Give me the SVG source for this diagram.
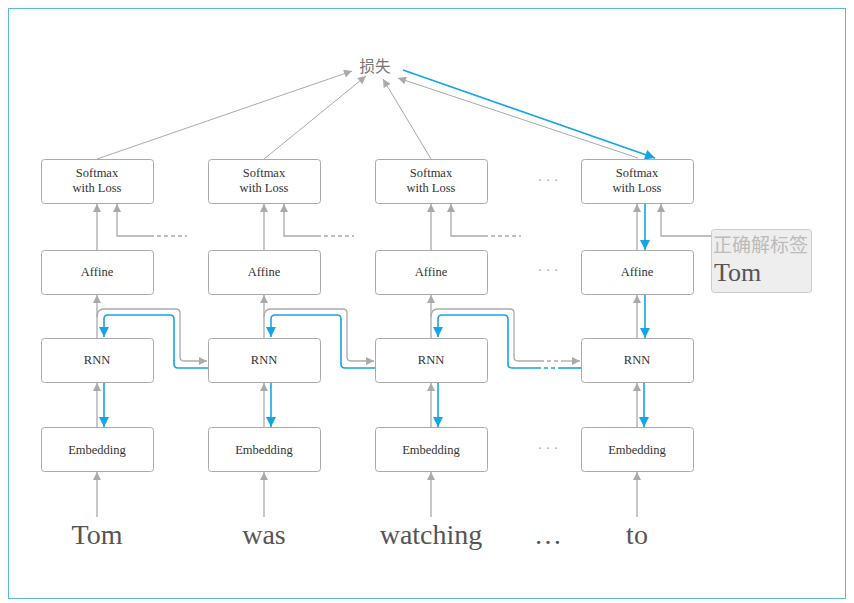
<svg xmlns="http://www.w3.org/2000/svg" width="854" height="603" viewBox="0 0 854 603">
<style>
.box{fill:#fff;stroke:#aaa;stroke-width:1}
.lbl{font-family:"Liberation Serif","DejaVu Serif","Noto Serif","Times New Roman",Times,serif;font-size:12.5px;fill:#333;text-anchor:middle}
.word{font-family:"Liberation Serif","DejaVu Serif","Noto Serif","Times New Roman",Times,serif;font-size:28px;fill:#555;text-anchor:middle}
.dots{font-family:"Liberation Serif",serif;font-size:14px;fill:#aaa;text-anchor:middle}
.g{fill:none;stroke:#aaa;stroke-width:1.3}
.gt{fill:none;stroke:#aaa;stroke-width:1}
.b{fill:none;stroke:#14a5e6;stroke-width:1.6}
.gd{fill:none;stroke:#aaa;stroke-width:1.3;stroke-dasharray:4 3}
.bd{fill:none;stroke:#14a5e6;stroke-width:1.6;stroke-dasharray:4 3}
</style>
<defs>
<marker id="ag" viewBox="0 0 10 10" refX="10" refY="5" markerWidth="9" markerHeight="8" markerUnits="userSpaceOnUse" orient="auto"><path d="M0,0 L10,5 L0,10 z" fill="#aaa"/></marker>
<marker id="ab" viewBox="0 0 10 10" refX="10" refY="5" markerWidth="11" markerHeight="10" markerUnits="userSpaceOnUse" orient="auto"><path d="M0,0 L10,5 L0,10 z" fill="#14a5e6"/></marker>
</defs>
<rect x="8.5" y="8.5" width="837" height="590" fill="#fff" stroke="#5bb8e0" stroke-width="1"/>

<g id="connectors">
<path class="gt" d="M97,159 L352,71" marker-end="url(#ag)"/>
<path class="gt" d="M264,159 L366,76" marker-end="url(#ag)"/>
<path class="gt" d="M431,159 L383,79" marker-end="url(#ag)"/>
<path class="gt" d="M638,158 L398,78" marker-end="url(#ag)"/>
<path class="b" d="M403,70 L655,158" marker-end="url(#ab)"/>
<path class="g" d="M97,250 L97,204" marker-end="url(#ag)"/>
<path class="g" d="M264,250 L264,204" marker-end="url(#ag)"/>
<path class="g" d="M431,250 L431,204" marker-end="url(#ag)"/>
<path class="g" d="M637,250 L637,204" marker-end="url(#ag)"/>
<path class="b" d="M645,204 L645,250" marker-end="url(#ab)"/>
<path class="g" d="M150,236 L117,236 L117,204" marker-end="url(#ag)"/>
<path class="gd" d="M150,236 L187,236"/>
<path class="g" d="M317,236 L284,236 L284,204" marker-end="url(#ag)"/>
<path class="gd" d="M317,236 L354,236"/>
<path class="g" d="M484,236 L451,236 L451,204" marker-end="url(#ag)"/>
<path class="gd" d="M484,236 L521,236"/>
<path class="g" d="M711,236 L661,236 L661,204" marker-end="url(#ag)"/>
<path class="g" d="M97,338 L97,295" marker-end="url(#ag)"/>
<path class="g" d="M264,338 L264,295" marker-end="url(#ag)"/>
<path class="g" d="M431,338 L431,295" marker-end="url(#ag)"/>
<path class="g" d="M637,338 L637,295" marker-end="url(#ag)"/>
<path class="b" d="M645,295 L645,338" marker-end="url(#ab)"/>
<path class="g" d="M97,427 L97,383" marker-end="url(#ag)"/>
<path class="g" d="M264,427 L264,383" marker-end="url(#ag)"/>
<path class="g" d="M431,427 L431,383" marker-end="url(#ag)"/>
<path class="g" d="M637,427 L637,383" marker-end="url(#ag)"/>
<path class="b" d="M104,383 L104,427" marker-end="url(#ab)"/>
<path class="b" d="M271,383 L271,427" marker-end="url(#ab)"/>
<path class="b" d="M438,383 L438,427" marker-end="url(#ab)"/>
<path class="b" d="M644,383 L644,427" marker-end="url(#ab)"/>
<path class="g" d="M97,517 L97,472" marker-end="url(#ag)"/>
<path class="g" d="M264,517 L264,472" marker-end="url(#ag)"/>
<path class="g" d="M431,517 L431,472" marker-end="url(#ag)"/>
<path class="g" d="M637,517 L637,472" marker-end="url(#ag)"/>
<path class="g" d="M97,317 Q97,309 104,309 L176,309 Q180,309 180,313 L180,357 Q180,361 184,361 L207,361" marker-end="url(#ag)"/>
<path class="b" d="M208,368 L178,368 Q174,368 174,364 L174,319 Q174,315 170,315 L108,315 Q104,315 104,319 L104,337" marker-end="url(#ab)"/>
<path class="g" d="M264,317 Q264,309 271,309 L343,309 Q347,309 347,313 L347,357 Q347,361 351,361 L374,361" marker-end="url(#ag)"/>
<path class="b" d="M375,368 L345,368 Q341,368 341,364 L341,319 Q341,315 337,315 L275,315 Q271,315 271,319 L271,337" marker-end="url(#ab)"/>
<path class="g" d="M431,317 Q431,309 438,309 L510,309 Q514,309 514,313 L514,357 Q514,361 518,361 L540,361"/>
<path class="gd" d="M540,361 L562,361"/>
<path class="g" d="M562,361 L580,361" marker-end="url(#ag)"/>
<path class="b" d="M581,368 L562,368"/>
<path class="bd" d="M562,368 L540,368"/>
<path class="b" d="M540,368 L512,368 Q508,368 508,364 L508,319 Q508,315 504,315 L442,315 Q438,315 438,319 L438,337" marker-end="url(#ab)"/>
</g>

<g id="loss"><text x="375" y="72" font-family="'Noto Sans CJK SC',sans-serif" font-size="15.5" fill="#777" text-anchor="middle">损失</text></g>

<g id="softmax1"><rect class="box" x="41.5" y="159.5" width="112" height="44" rx="3"/><text class="lbl" x="97" y="177">Softmax</text><text class="lbl" x="97" y="192">with Loss</text></g>
<g id="softmax2"><rect class="box" x="208.5" y="159.5" width="112" height="44" rx="3"/><text class="lbl" x="264" y="177">Softmax</text><text class="lbl" x="264" y="192">with Loss</text></g>
<g id="softmax3"><rect class="box" x="375.5" y="159.5" width="112" height="44" rx="3"/><text class="lbl" x="431" y="177">Softmax</text><text class="lbl" x="431" y="192">with Loss</text></g>
<g id="softmax4"><rect class="box" x="581.5" y="159.5" width="112" height="44" rx="3"/><text class="lbl" x="637" y="177">Softmax</text><text class="lbl" x="637" y="192">with Loss</text></g>

<g id="affine1"><rect class="box" x="41.5" y="250.5" width="112" height="44" rx="3"/><text class="lbl" x="97" y="276">Affine</text></g>
<g id="affine2"><rect class="box" x="208.5" y="250.5" width="112" height="44" rx="3"/><text class="lbl" x="264" y="276">Affine</text></g>
<g id="affine3"><rect class="box" x="375.5" y="250.5" width="112" height="44" rx="3"/><text class="lbl" x="431" y="276">Affine</text></g>
<g id="affine4"><rect class="box" x="581.5" y="250.5" width="112" height="44" rx="3"/><text class="lbl" x="637" y="276">Affine</text></g>

<g id="rnn1"><rect class="box" x="41.5" y="338.5" width="112" height="44" rx="3"/><text class="lbl" x="97" y="364">RNN</text></g>
<g id="rnn2"><rect class="box" x="208.5" y="338.5" width="112" height="44" rx="3"/><text class="lbl" x="264" y="364">RNN</text></g>
<g id="rnn3"><rect class="box" x="375.5" y="338.5" width="112" height="44" rx="3"/><text class="lbl" x="431" y="364">RNN</text></g>
<g id="rnn4"><rect class="box" x="581.5" y="338.5" width="112" height="44" rx="3"/><text class="lbl" x="637" y="364">RNN</text></g>

<g id="emb1"><rect class="box" x="41.5" y="427.5" width="112" height="44" rx="3"/><text class="lbl" x="97" y="454">Embedding</text></g>
<g id="emb2"><rect class="box" x="208.5" y="427.5" width="112" height="44" rx="3"/><text class="lbl" x="264" y="454">Embedding</text></g>
<g id="emb3"><rect class="box" x="375.5" y="427.5" width="112" height="44" rx="3"/><text class="lbl" x="431" y="454">Embedding</text></g>
<g id="emb4"><rect class="box" x="581.5" y="427.5" width="112" height="44" rx="3"/><text class="lbl" x="637" y="454">Embedding</text></g>

<g id="dots">
<text class="dots" x="548" y="185">· · ·</text>
<text class="dots" x="548" y="275">· · ·</text>
<text class="dots" x="548" y="453">· · ·</text>
</g>

<g id="label"><rect x="711.5" y="229.5" width="100" height="63" rx="3" fill="#eee" stroke="#ccc"/><text x="713" y="252" font-family="'Noto Sans CJK SC',sans-serif" font-size="19" fill="#bbb">正确解标签</text><text x="714" y="281" font-family="'Liberation Serif','DejaVu Serif','Noto Serif',serif" font-size="26" fill="#555">Tom</text></g>

<g id="words">
<text class="word" x="97" y="544">Tom</text>
<text class="word" x="264" y="544">was</text>
<text class="word" x="431" y="544">watching</text>
<text class="word" x="548" y="544">…</text>
<text class="word" x="637" y="544">to</text>
</g>
</svg>
